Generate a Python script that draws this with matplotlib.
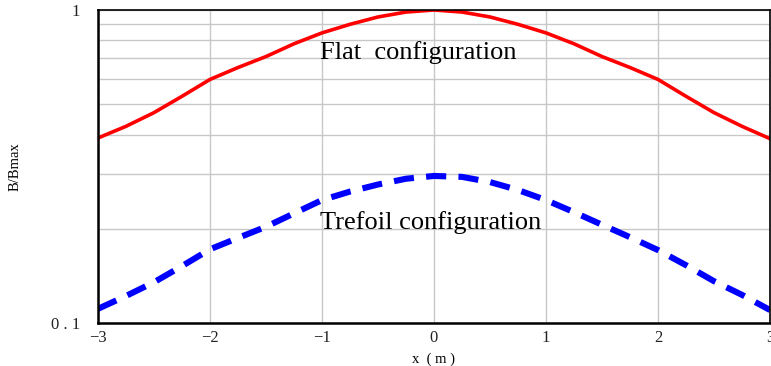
import matplotlib
matplotlib.use('Agg')
import matplotlib.pyplot as plt
import numpy as np

plt.rcParams['font.family'] = ['Liberation Serif', 'DejaVu Serif']

# position along the cable axis (m)
x_pos = [-3, -2.75, -2.5, -2.25, -2, -1.75, -1.5, -1.25, -1, -0.75, -0.5, -0.25, 0,
         0.25, 0.5, 0.75, 1, 1.25, 1.5, 1.75, 2, 2.25, 2.5, 2.75, 3]
# B/Bmax, flat configuration
flat = [0.39, 0.425, 0.47, 0.53, 0.60, 0.655, 0.71, 0.78, 0.845, 0.90, 0.95, 0.985, 1.0,
        0.985, 0.95, 0.90, 0.845, 0.78, 0.71, 0.655, 0.60, 0.53, 0.47, 0.425, 0.388]
# B/Bmax, trefoil configuration
trefoil = [0.111, 0.122, 0.135, 0.152, 0.172, 0.187, 0.203, 0.224, 0.247, 0.263, 0.277, 0.289, 0.295,
           0.293, 0.282, 0.266, 0.247, 0.226, 0.206, 0.188, 0.171, 0.153, 0.136, 0.123, 0.110]

xticks = [-3, -2, -1, 0, 1, 2, 3]

fig = plt.figure(figsize=(7.71, 3.66), dpi=100)
ax = fig.add_axes([98/771, 43/366, 672/771, 313/366])

ax.plot(x_pos, flat, color='#ff0000', lw=2.6, solid_joinstyle='round')
ax.plot(x_pos, trefoil, color='#0000ff', lw=4.4, dashes=(3.3, 2.0), dash_capstyle='butt')

ax.set_yscale('log')
ax.set_xlim(-3, 3)
ax.set_ylim(0.1, 1)

ax.set_xticks(xticks)
ax.set_xticklabels(['\u22123', '\u22122', '\u22121', '0', '1', '2', '3'])
ax.set_yticks([0.1, 1])
ax.set_yticklabels(['0 . 1', '1'])
ax.set_yticks([0.2, 0.3, 0.4, 0.5, 0.6, 0.7, 0.8, 0.9], minor=True)
ax.yaxis.set_minor_formatter(plt.NullFormatter())
ax.tick_params(axis='both', which='both', length=0, labelsize=12, colors='#222222')
ax.tick_params(axis='x', pad=5)
ax.tick_params(axis='y', pad=13)

ax.grid(True, which='both', color='#c8c8c8', lw=1.0)
ax.set_axisbelow(True)
for s in ['left', 'bottom']:
    ax.spines[s].set_linewidth(1.8)
for s in ['top', 'right']:
    ax.spines[s].set_linewidth(1.2)

ax.set_xlabel('x  ( m )', fontsize=10.5, labelpad=5)
ax.set_ylabel('B/Bmax', fontsize=10.5)
ax.yaxis.set_label_coords(-0.114, 0.5)

ax.text(-1.02, 0.729, 'Flat  configuration', fontsize=19, va='center', ha='left')
ax.text(-1.02, 0.210, 'Trefoil configuration', fontsize=19, va='center', ha='left')

fig.savefig('out.png', dpi=100)
